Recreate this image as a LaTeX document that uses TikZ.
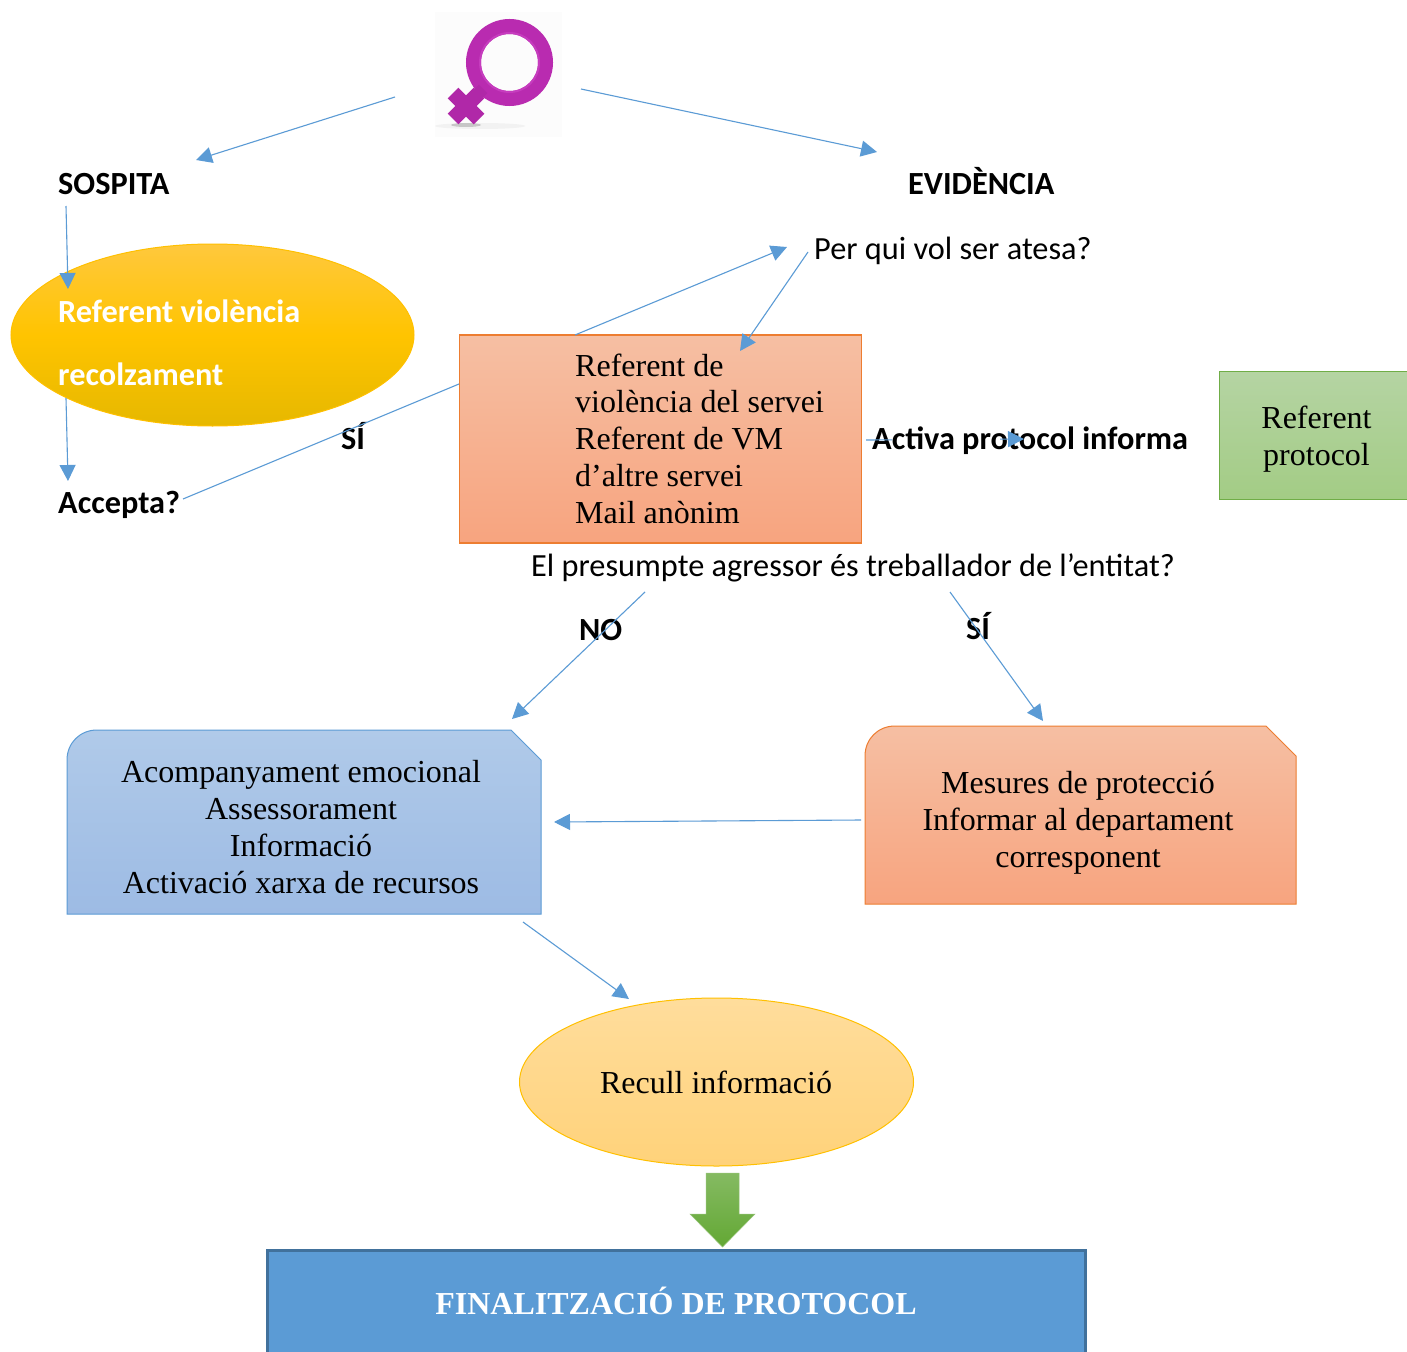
\documentclass[tikz,border=0pt]{standalone}
\usepackage{fontspec}
\setmainfont{Liberation Serif}
\newfontfamily\calib{Carlito}
\usetikzlibrary{arrows.meta,shapes.geometric}
\definecolor{conn}{HTML}{5B9BD5}
\definecolor{F1}{HTML}{F6BFA3}\definecolor{F2}{HTML}{F7A47F}\definecolor{orangeline}{HTML}{ED7D31}
\definecolor{venus}{HTML}{B92BB0}\definecolor{venusD}{HTML}{B028A8}\definecolor{venusL}{HTML}{C63CBE}
\definecolor{gold}{HTML}{FFC000}\definecolor{goldT}{HTML}{FFC83D}\definecolor{goldM}{HTML}{FFC400}\definecolor{goldB}{HTML}{E6B800}
\definecolor{greenline}{HTML}{70AD47}\definecolor{greenT}{HTML}{B5D4A3}\definecolor{greenB}{HTML}{A3CC85}
\definecolor{blueT}{HTML}{B0CAE9}\definecolor{blueB}{HTML}{9DBBE4}
\definecolor{paleT}{HTML}{FFDD9C}\definecolor{paleB}{HTML}{FFD27A}
\definecolor{arrowT}{HTML}{85BA62}\definecolor{arrowB}{HTML}{63A834}\definecolor{arrowL}{HTML}{96C378}
\definecolor{finline}{HTML}{41719C}
\tikzset{
  x=1pt,y=-1pt,
  conn/.style={draw=conn,line width=1.1pt},
  arr/.style={conn,-{Triangle[length=16pt,width=16pt,fill=conn]}},
  lab/.style={font=\calib\fontsize{32.3}{32.3}\selectfont\bfseries,inner sep=0pt,text=black,anchor=base west},
  plain/.style={font=\calib\fontsize{32.3}{32.3}\selectfont,inner sep=0pt,text=black,anchor=base west},
  ser/.style={font=\fontsize{32}{37}\selectfont,inner sep=0pt,align=center,text=black},
  serl/.style={font=\fontsize{32}{36.75}\selectfont,inner sep=0pt,align=left,text=black,anchor=north west},
  wlab/.style={font=\calib\fontsize{32.3}{32.3}\selectfont\bfseries,inner sep=0pt,text=white,anchor=base west},
}
\begin{document}
\begin{tikzpicture}
\clip (0,0) rectangle (1407,1351);
\fill[white] (0,0) rectangle (1407,1351);
% female symbol
\fill[black!1] (435,12) rectangle (562,137);
\fill[black!5] (480,126) ellipse (45 and 3);
\fill[black!22] (466,125) ellipse (15 and 2);
\draw[venus,line width=15pt] (509.5,62.5) circle (36);
\draw[venusL,line width=2pt] (509.5,62.5) circle (29.5);
\draw[venusD,line width=12pt] (483,89) -- (466,106);
\draw[venusD,line width=15pt] (453,93) -- (479,119);
\draw[venusD,line width=15pt] (479,93) -- (453,119);
% shapes
\node[ellipse,draw=gold,line width=1pt,minimum width=403,minimum height=182,inner sep=0pt,
  top color=goldT,bottom color=goldB,middle color=goldM] (e1) at (212.5,335) {};
\node[rectangle,draw=orangeline,line width=1.2pt,top color=F1,bottom color=F2,minimum width=402,minimum height=208,inner sep=0pt] (b1) at (660.5,439) {};
\node[rectangle,draw=greenline,line width=1pt,top color=greenT,bottom color=greenB,minimum width=200,minimum height=128,inner sep=0pt] (b2) at (1319,435) {};
\path[draw=conn,line width=1pt,top color=blueT,bottom color=blueB]
  (97,730) -- (511,730) -- (541,760) -- (541,914) -- (67,914) -- (67,760) .. controls (67,743) and (80,730) .. (97,730) -- cycle;
\path[draw=orangeline,line width=1pt,top color=F1,bottom color=F2]
  (895,726) -- (1266,726) -- (1296,756) -- (1296,904) -- (865,904) -- (865,756) .. controls (865,739) and (878,726) .. (895,726) -- cycle;
\node[ellipse,draw=gold,line width=1pt,minimum width=394,minimum height=168,inner sep=0pt,
  top color=paleT,bottom color=paleB] (e2) at (716.5,1082) {};
\path[top color=arrowT,bottom color=arrowB,draw=arrowL,line width=.5pt]
  (706,1173) -- (739,1173) -- (739,1214) -- (755,1214) -- (722.5,1247) -- (690,1214) -- (706,1214) -- cycle;
\node[rectangle,draw=finline,line width=3pt,fill=conn,minimum width=818,minimum height=130,inner sep=0pt,anchor=north west] (fin) at (266,1249) {};
% coordinates for connectors
\coordinate (a1s) at (395,97); \coordinate (a1e) at (196,160);
\coordinate (a2s) at (581,89); \coordinate (a2e) at (877,152);
\coordinate (a3s) at (66,206); \coordinate (a3e) at (68,289);
\coordinate (a4s) at (66,398); \coordinate (a4e) at (68,481);
\coordinate (a5s) at (183,499); \coordinate (a5e) at (459,384);
\coordinate (a6s) at (575,335); \coordinate (a6e) at (787,247);
\coordinate (a7s) at (808,252); \coordinate (a7e) at (740,351);
\coordinate (a8s) at (866,440); \coordinate (a8e) at (1024,439);
\coordinate (a9s) at (645,592); \coordinate (a9e) at (512,719);
\coordinate (a10s) at (950,592); \coordinate (a10e) at (1043,721);
\coordinate (a11s) at (861,820); \coordinate (a11e) at (554,822);
\coordinate (a12s) at (523,922); \coordinate (a12e) at (629,999);
% text
\node[lab] (t1) at (58,194.5) {SOSPITA};
\node[lab] (t2) at (908,194.5) {EVIDÈNCIA};
\node[plain] (t3) at (814,259) {Per qui vol ser atesa?};
\node[wlab] (t4) at (58,322) {Referent violència};
\node[wlab] (t5) at (58,385) {recolzament};
\node[lab] (t6) at (58,513) {Accepta?};
\node[lab] (t7) at (341,449) {SÍ};
\node[serl] (t8) at (575,353.5) {Referent de\\violència del servei\\Referent de VM\\d’altre servei\\Mail anònim};
\node[lab] (t9) at (872,449) {Activa protocol informa};
\node[ser] (t10) at (1316.5,439) {Referent\\protocol};
\node[plain] (t11) at (531,576) {El presumpte agressor és treballador de l’entitat?};
\node[lab] (t12) at (579,640) {NO};
\node[lab] (t13) at (966,639) {SÍ};
\node[ser] (t14) at (301,827) {Acompanyament emocional\\Assessorament\\Informació\\Activació xarxa de recursos};
\node[ser] (t15) at (1078,823) {Mesures de protecció\\Informar al departament\\corresponent};
\node[ser] (t16) at (716,1082) {Recull informació};
\node[font=\fontsize{32}{37}\selectfont\bfseries,inner sep=0pt,text=white] (t17) at (676,1300.5) {FINALITZACIÓ DE PROTOCOL};
% connectors
\draw[arr] (a1s) -- (a1e);
\draw[arr] (a2s) -- (a2e);
\draw[arr] (a3s) -- (a3e);
\draw[arr] (a4s) -- (a4e);
\draw[conn] (a5s) -- (a5e);
\draw[arr] (a6s) -- (a6e);
\draw[arr] (a7s) -- (a7e);
\draw[arr,dash pattern=on 26pt off 108pt on 60pt] (a8s) -- (a8e);
\draw[arr] (a9s) -- (a9e);
\draw[arr] (a10s) -- (a10e);
\draw[arr] (a11s) -- (a11e);
\draw[arr] (a12s) -- (a12e);
\end{tikzpicture}
\end{document}
